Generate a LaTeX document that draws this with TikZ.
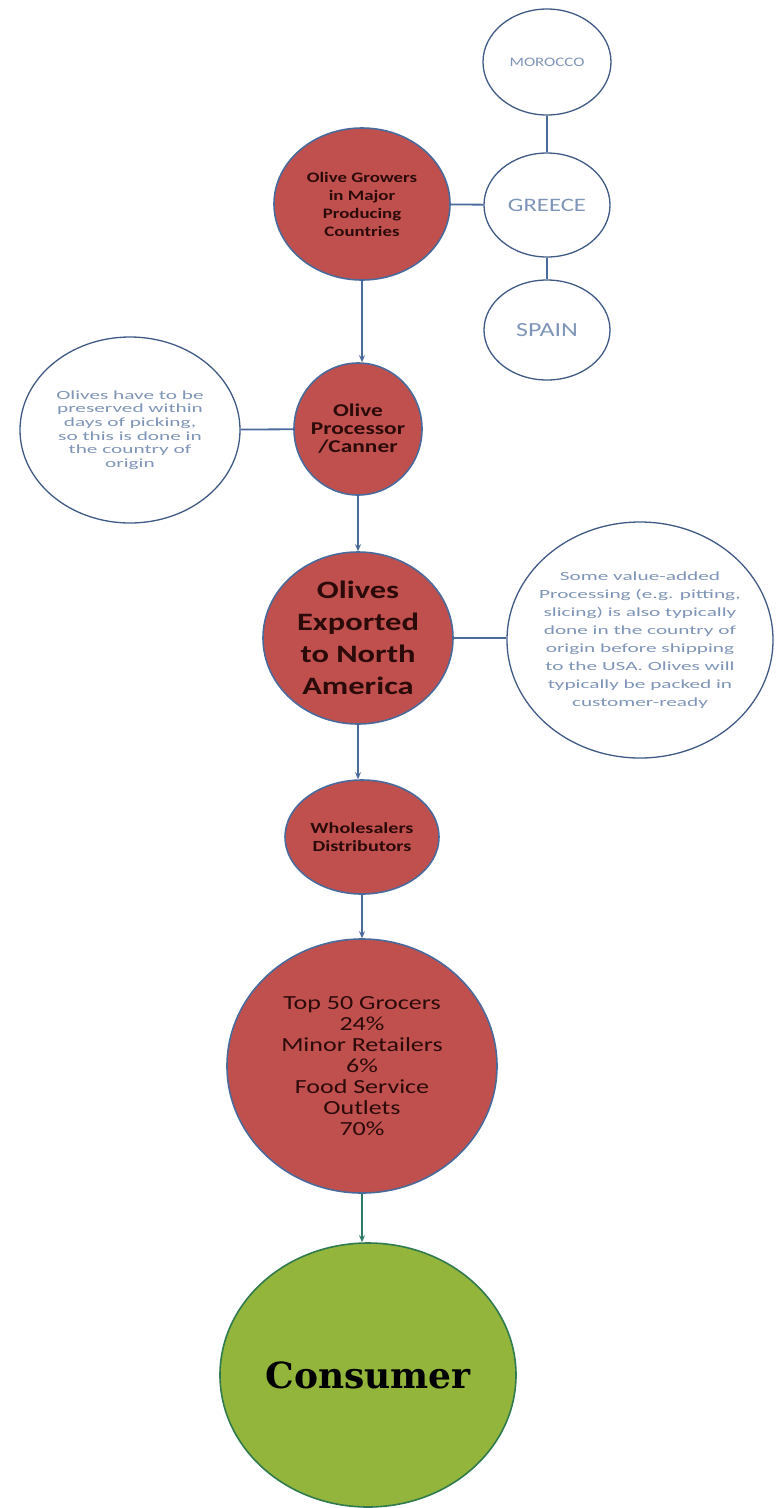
\documentclass[tikz,border=0pt]{standalone}
\usepackage{fontspec}
\setmainfont{Carlito}[FakeStretch=1.3]
\newfontfamily\notefont{Carlito}[FakeStretch=1.7]
\newfontfamily\consfont{DejaVu Serif}
\usetikzlibrary{arrows.meta,shapes.geometric}
\definecolor{olivered}{HTML}{C0504D}
\definecolor{edgeblue}{HTML}{4A6A9C}
\definecolor{notetext}{HTML}{7F95B8}
\definecolor{redtext}{HTML}{2B0A0A}
\definecolor{consgreen}{HTML}{94B53C}
\definecolor{consedge}{HTML}{2F7A4E}
\definecolor{linkteal}{HTML}{2E7B66}
\newcommand{\fsz}[2]{\fontsize{#1}{#2}\selectfont}

\begin{document}
\begin{tikzpicture}[x=1pt,y=-1pt,>={Stealth[length=7pt,width=6pt]},
    stage/.style={ellipse,draw=edgeblue,line width=1.6pt,fill=olivered,inner sep=-8pt,align=center,text=redtext},
    note/.style={ellipse,draw=edgeblue!85!black,line width=1.3pt,fill=white,inner sep=-30pt,align=center,text=notetext},
    link/.style={edgeblue,line width=1.8pt}]
  \useasboundingbox (0,0) rectangle (779,1508);
  % countries
  \node[note,minimum width=128pt,minimum height=106pt,font=\fsz{13}{15}] (morocco) at (547,62) {MOROCCO};
  \node[note,minimum width=126pt,minimum height=104pt,font=\fsz{19}{21}] (greece) at (547,205) {GREECE};
  \node[note,minimum width=126pt,minimum height=100pt,font=\fsz{20}{22}] (spain) at (547,330) {SPAIN};
  % main chain
  \node[stage,minimum width=176pt,minimum height=152pt,font=\fsz{14.5}{18}\bfseries] (growers) at (362,204)
    {Olive Growers\\in Major\\Producing\\Countries};
  \node[stage,minimum width=128pt,minimum height=132pt,font=\fsz{18}{18}\bfseries] (processor) at (358,429)
    {Olive\\Processor\\/Canner};
  \node[stage,minimum width=190pt,minimum height=172pt,font=\fsz{25}{32}\bfseries] (exported) at (358,638)
    {Olives\\Exported\\to North\\America};
  \node[stage,minimum width=154pt,minimum height=114pt,font=\fsz{15.5}{18}\bfseries] (wholesale) at (362,837)
    {Wholesalers\\Distributors};
  \node[stage,minimum width=270pt,minimum height=254pt,font=\fsz{20}{21}] (grocers) at (362,1066)
    {Top 50 Grocers\\24\%\\Minor Retailers\\6\%\\Food Service\\Outlets\\70\%};
  \node[ellipse,draw=consedge,line width=1.6pt,fill=consgreen,inner sep=0pt,
    minimum width=296pt,minimum height=264pt,font=\consfont\bfseries\fsz{36}{40}] (consumer) at (368,1375)
    {Consumer};
  % side notes
  \node[note,minimum width=220pt,minimum height=186pt,font=\notefont\fsz{12.5}{13.6}] (leftnote) at (130,430)
    {Olives have to be\\preserved within\\days of picking,\\so this is done in\\the country of\\origin};
  \node[note,minimum width=266pt,minimum height=236pt,font=\notefont\fsz{12.5}{18}] (rightnote) at (640,640)
    {Some value-added\\Processing (e.g. pitting,\\slicing) is also typically\\done in the country of\\origin before shipping\\to the USA. Olives will\\typically be packed in\\customer-ready};
  % connectors
  \draw[link] (morocco) -- (greece);
  \draw[link] (greece) -- (spain);
  \draw[link] (growers) -- (greece);
  \draw[link] (leftnote) -- (processor);
  \draw[link] (exported) -- (exported -| rightnote.west);
  \draw[link,->] (growers) -- (growers |- processor.north);
  \draw[link,->] (processor) -- (processor |- exported.north);
  \draw[link,->] (exported) -- (exported |- wholesale.north);
  \draw[link,->] (wholesale) -- (grocers);
  \draw[linkteal,line width=1.8pt,->] (grocers) -- (grocers |- consumer.north);
\end{tikzpicture}
\end{document}
